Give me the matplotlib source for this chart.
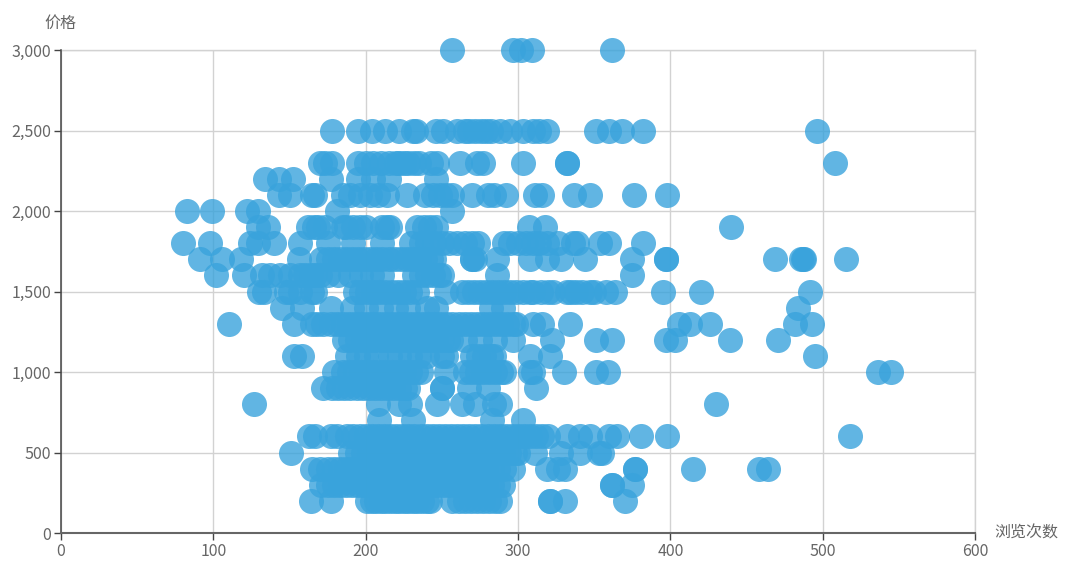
import matplotlib
matplotlib.use('Agg')
import matplotlib.pyplot as plt
from matplotlib.ticker import FuncFormatter

plt.rcParams['font.family'] = ['Noto Sans CJK SC', 'DejaVu Sans']

# views per price level
views_3000 = [257, 297, 302, 309, 362]
views_2500 = [178, 195, 204, 213, 222, 231, 233, 246, 251, 260, 265, 268, 272, 276, 279, 282, 288, 295, 303,
              310, 314, 319, 351, 360, 368, 382, 496]
views_2300 = [170, 173, 178, 195, 200, 205, 210, 215, 220, 222, 225, 228, 232, 235, 243, 247, 262, 273, 277,
              303, 332, 332, 508]
views_2200 = [134, 143, 152, 177, 195, 205, 215, 246]
views_2100 = [143, 150, 165, 167, 185, 190, 196, 203, 208, 214, 227, 239, 244, 249, 253, 257, 270, 280, 284,
              292, 311, 316, 337, 347, 376, 398]
views_2000 = [83, 99, 122, 129, 181, 257]
views_1900 = [129, 136, 162, 166, 169, 173, 185, 187, 192, 196, 200, 211, 214, 216, 234, 238, 242, 246, 307, 318, 440]
views_1800 = [80, 98, 124, 129, 140, 157, 175, 192, 211, 230, 236, 240, 245, 250, 255, 260, 265, 270, 274,
              291, 295, 300, 305, 310, 314, 319, 326, 336, 339, 354, 360, 382]
views_1700 = [91, 106, 118, 156, 171, 175, 179, 183, 187, 191, 195, 199, 203, 207, 211, 215, 219, 223, 227, 231,
              235, 239, 243, 245, 270, 270, 272, 286, 308, 319, 328, 344, 375, 397, 397, 469, 486, 487, 488, 515]
views_1600 = [102, 120, 132, 137, 144, 150, 157, 160, 164, 167, 170, 175, 182, 190, 197, 204, 211, 232, 236, 240,
              244, 248, 250, 286, 375]
views_1500 = [130, 133, 148, 150, 157, 165, 167, 193, 197, 201, 205, 209, 213, 217, 221, 225, 229, 234, 253,
              263, 267, 271, 275, 279, 283, 287, 291, 295, 299, 303, 308, 310, 315, 320, 323, 332, 335, 338, 342,
              347, 350, 358, 364, 395, 420, 492]
views_1400 = [145, 158, 177, 191, 200, 210, 220, 228, 240, 246, 282, 290, 484]
views_1300 = [110, 153, 165, 168, 172, 177, 181, 185, 189, 193, 197, 201, 205, 209, 213, 217, 221, 225, 229, 233,
              237, 241, 245, 249, 253, 257, 261, 265, 269, 273, 277, 281, 285, 289, 293, 297, 299, 310, 316, 334,
              406, 413, 426, 482, 493]
views_1200 = [186, 190, 194, 198, 202, 206, 210, 214, 218, 222, 226, 230, 234, 238, 242, 246, 250, 254, 256,
              265, 275, 285, 297, 322, 351, 362, 397, 403, 439, 471]
views_1100 = [153, 158, 188, 195, 200, 207, 216, 222, 229, 235, 240, 250, 253, 270, 274, 278, 282, 284, 308, 321, 495]
views_1000 = [179, 185, 189, 193, 197, 201, 205, 209, 213, 217, 221, 225, 229, 233, 236, 253, 265, 269, 273, 277,
              281, 285, 289, 291, 308, 310, 330, 351, 359, 536, 545]
views_900 = [172, 178, 182, 186, 190, 194, 198, 202, 206, 210, 214, 218, 222, 226, 228, 250, 250, 268, 280, 312]
views_800 = [127, 208, 222, 229, 247, 263, 272, 284, 288, 430]
views_700 = [209, 231, 283, 303]
views_600 = [163, 167, 177, 181, 188, 192, 196, 200, 204, 208, 212, 216, 220, 224, 228, 232, 236, 240, 244, 248,
             252, 256, 260, 264, 268, 272, 276, 280, 284, 288, 292, 296, 300, 304, 308, 312, 316, 320, 332, 341,
             347, 360, 365, 381, 398, 518]
views_500 = [151, 190, 194, 198, 202, 206, 210, 214, 218, 222, 226, 230, 234, 238, 242, 246, 250, 254, 258, 262,
             266, 270, 274, 278, 282, 286, 290, 294, 298, 300, 311, 328, 341, 353, 355]
views_400 = [165, 170, 175, 179, 183, 187, 191, 195, 199, 203, 207, 211, 215, 219, 223, 227, 231, 235, 239, 243,
             247, 251, 255, 259, 263, 267, 271, 275, 279, 283, 287, 291, 297, 319, 326, 331, 377, 377, 415, 458, 464]
views_300 = [171, 175, 179, 183, 187, 191, 195, 199, 203, 207, 211, 215, 219, 223, 227, 231, 235, 239, 243, 247,
             251, 255, 259, 263, 267, 271, 275, 279, 283, 287, 290, 362, 362, 375]
views_200 = [164, 177, 201, 204, 207, 210, 213, 216, 219, 222, 225, 228, 231, 234, 237, 240, 242, 257, 261, 265,
             269, 273, 277, 281, 285, 288, 321, 321, 331, 370]

price_levels = [3000, 2500, 2300, 2200, 2100, 2000, 1900, 1800, 1700, 1600, 1500, 1400, 1300, 1200, 1100, 1000,
                900, 800, 700, 600, 500, 400, 300, 200]
views_rows = [views_3000, views_2500, views_2300, views_2200, views_2100, views_2000, views_1900, views_1800,
              views_1700, views_1600, views_1500, views_1400, views_1300, views_1200, views_1100, views_1000,
              views_900, views_800, views_700, views_600, views_500, views_400, views_300, views_200]

xs = []
ys = []
for price, row in zip(price_levels, views_rows):
    xs.extend(row)
    ys.extend([price] * len(row))

W, H = 1080, 585
fig = plt.figure(figsize=(W / 100, H / 100), dpi=100, facecolor='white')
ax = fig.add_axes([61 / W, 1 - 533 / H, (975 - 61) / W, (533 - 50) / H])

ax.scatter(xs, ys, s=325, color='#39A3DC', alpha=0.8, linewidths=0, clip_on=False, zorder=3)

ax.set_xlim(0, 600)
ax.set_ylim(0, 3000)
ax.set_xticks(range(0, 601, 100))
ax.set_yticks(range(0, 3001, 500))
ax.yaxis.set_major_formatter(FuncFormatter(lambda v, p: f'{int(v):,}'))
ax.grid(True, color='#d2d2d2', linewidth=1)
ax.set_axisbelow(True)

for side in ['top', 'right']:
    ax.spines[side].set_color('#d2d2d2')
    ax.spines[side].set_linewidth(1)
ax.spines['left'].set_color('#444444')
ax.spines['left'].set_linewidth(1.1)
ax.spines['bottom'].set_color('#666666')
ax.spines['bottom'].set_linewidth(1.5)
ax.spines['left'].set_zorder(4)
ax.spines['bottom'].set_zorder(4)
ax.tick_params(colors='#444444', labelcolor='#666666', labelsize=11.5, length=5, width=1, pad=2)

fig.text(60 / W, 1 - 23 / H, '价格', fontsize=11.5, color='#666666', ha='center', va='center')
fig.text(994 / W, 1 - 533 / H, '浏览次数', fontsize=11.5, color='#666666', ha='left', va='center')

fig.savefig('out.png', dpi=100)
